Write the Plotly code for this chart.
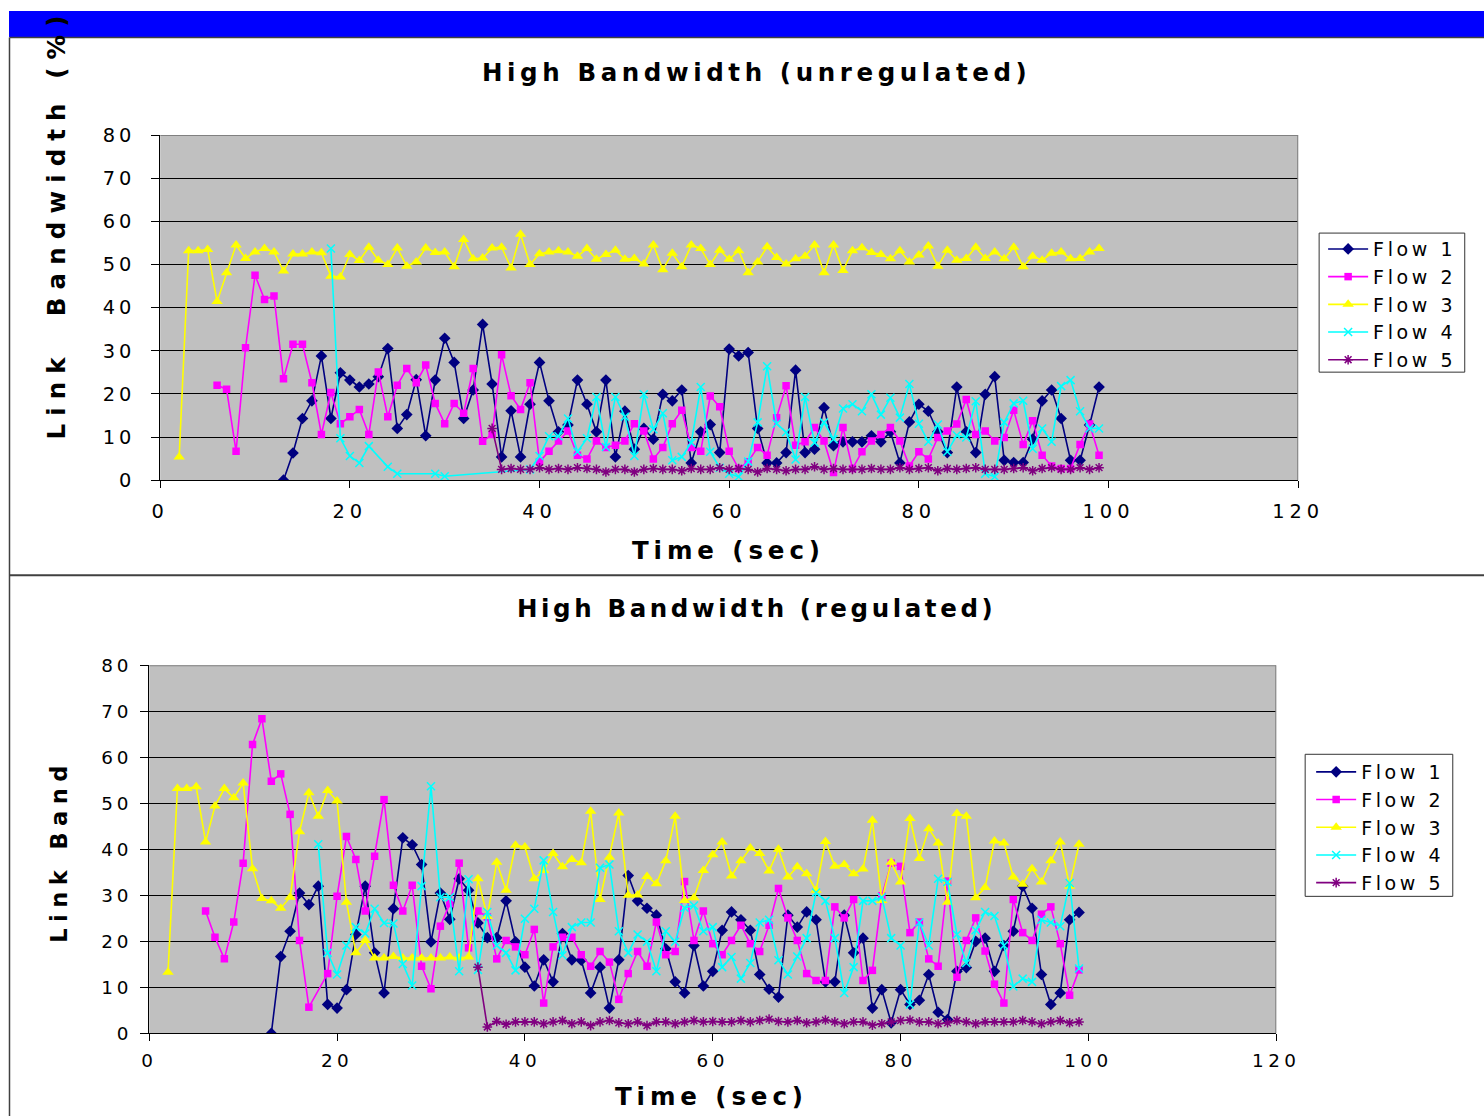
import plotly.graph_objects as go

# ---------------- data ----------------
flow_names = ["Flow 1", "Flow 2", "Flow 3", "Flow 4", "Flow 5"]
x_ticks = [0, 20, 40, 60, 80, 100, 120]
y_ticks = [0, 10, 20, 30, 40, 50, 60, 70, 80]

# --- High Bandwidth (unregulated) ---
top_f1_t = list(range(13, 100))
top_f1 = [0, 6.3, 14.3, 18.4, 28.8, 14.3, 24.9, 23.2, 21.6, 22.3,
          24.0, 30.5, 12.0, 15.2, 23.3, 10.3, 23.2, 32.9, 27.3, 14.3,
          20.9, 36.1, 22.3, 5.4, 16.1, 5.4, 17.6, 27.3, 18.4, 11.2,
          12.8, 23.2, 17.6, 11.2, 23.2, 5.4, 16.0, 7.2, 12.0, 9.5,
          19.9, 18.4, 20.9, 4.0, 11.2, 12.9, 6.4, 30.4, 28.8, 29.6,
          12.0, 4.0, 4.0, 6.4, 25.5, 6.4, 7.2, 16.8, 8.0, 8.9,
          8.9, 8.9, 10.3, 8.9, 11.2, 4.0, 13.5, 17.6, 16.0, 11.2,
          6.4, 21.6, 11.2, 6.4, 19.9, 24.0, 4.6, 4.1, 4.1, 9.5,
          18.4, 20.9, 14.3, 4.6, 4.6, 12.8, 21.6]

top_f2_t = list(range(6, 100))
top_f2 = [22.0, 21.1, 6.7, 30.7, 47.5, 41.9, 42.7, 23.5, 31.5, 31.5,
          22.6, 10.6, 20.3, 13.1, 14.7, 16.4, 10.6, 25.1, 14.7, 22.0,
          25.9, 22.6, 26.7, 17.8, 13.1, 17.8, 15.5, 25.9, 9.0, 10.6,
          29.1, 19.6, 16.4, 22.6, 4.3, 6.7, 9.1, 11.4, 5.8, 4.9,
          9.1, 7.6, 8.1, 9.1, 13.1, 11.4, 4.9, 7.6, 13.1, 16.2,
          7.6, 6.7, 19.5, 17.0, 6.7, 2.7, 4.3, 7.6, 5.8, 14.5,
          21.9, 8.1, 8.9, 12.2, 9.1, 1.8, 12.2, 2.7, 6.6, 9.1,
          10.6, 12.2, 9.1, 3.3, 6.6, 4.9, 9.9, 11.4, 13.0, 18.7,
          10.6, 11.4, 9.1, 9.9, 16.2, 8.3, 13.8, 5.8, 3.3, 2.7,
          2.7, 8.3, 13.0, 5.8]

top_f3_t = list(range(2, 100))
top_f3 = [5.4, 53.2, 53.2, 53.5, 41.4, 48.1, 54.5, 51.4, 52.9, 53.7,
          52.9, 48.5, 52.4, 52.4, 52.9, 52.7, 47.3, 47.1, 52.3, 50.9,
          54.0, 51.0, 50.0, 53.8, 49.6, 50.6, 53.8, 52.8, 52.9, 49.5,
          55.8, 51.3, 51.5, 53.8, 54.0, 49.2, 57.0, 50.0, 52.5, 52.9,
          53.2, 52.9, 51.9, 53.7, 51.2, 52.3, 53.3, 51.2, 51.4, 50.1,
          54.5, 48.8, 52.6, 49.5, 54.5, 53.7, 50.0, 53.3, 51.2, 53.2,
          48.1, 50.6, 54.1, 51.6, 50.1, 51.3, 51.9, 54.5, 48.1, 54.5,
          48.6, 53.2, 53.9, 52.8, 52.3, 51.3, 53.2, 50.6, 52.2, 54.3,
          49.6, 53.3, 51.0, 51.4, 54.0, 51.4, 52.9, 51.3, 54.0, 49.5,
          51.9, 51.0, 52.6, 52.9, 51.3, 51.4, 52.9, 53.7]

top_f4_t = list(range(18, 100))
top_f4 = [53.7, 9.7, 5.6, 4.0, 7.9, None, 3.1, 1.5, None, None,
          None, 1.5, 0.9, None, None, None, None, None, None, None,
          None, 2.5, 5.6, 10.2, 10.2, 14.3, 6.6, 9.7, 19.3, 7.7,
          19.3, 14.7, 5.6, 19.9, 11.8, 15.5, 4.6, 5.4, 8.7, 21.6,
          6.6, 2.9, 1.5, 0.8, 4.3, 13.4, 26.4, 13.1, 11.1, 4.8,
          19.3, 8.7, 13.4, 9.5, 16.6, 17.6, 16.0, 19.9, 15.2, 19.1,
          14.5, 22.3, 13.1, 8.9, 12.9, 6.6, 10.4, 9.9, 18.3, 1.5,
          0.8, 13.4, 17.8, 18.4, 7.3, 12.0, 8.9, 21.8, 23.2, 16.0,
          12.0, 12.0]

top_f5_t = list(range(35, 100))
top_f5 = [12.0, 2.5, 2.7, 2.5, 2.5, 2.9, 2.5, 2.7, 2.5, 2.9,
          2.7, 2.5, 1.9, 2.5, 2.5, 1.9, 2.5, 2.7, 2.5, 2.5,
          2.2, 2.7, 2.5, 2.5, 2.9, 2.5, 2.7, 2.5, 1.9, 2.7,
          2.5, 2.2, 2.5, 2.5, 3.1, 2.5, 2.7, 2.5, 2.5, 2.5,
          2.7, 2.5, 2.5, 2.9, 2.5, 2.7, 2.9, 2.2, 2.7, 2.5,
          2.7, 2.9, 2.5, 2.5, 2.5, 2.7, 2.9, 2.2, 2.7, 2.9,
          2.5, 2.5, 2.9, 2.5, 2.9]

# --- High Bandwidth (regulated) ---
bot_f1_t = list(range(13, 100))
bot_f1 = [0, 16.7, 22.2, 30.5, 28.0, 32.0, 6.3, 5.5, 9.5, 21.5,
          32.0, 17.5, 8.8, 27.1, 42.5, 41.0, 36.7, 19.9, 30.5, 24.8,
          33.6, 31.1, 24.0, 20.8, 20.8, 28.8, 19.9, 14.4, 10.3, 16.0,
          11.2, 21.7, 16.0, 15.9, 8.8, 14.4, 5.5, 16.0, 34.3, 28.8,
          27.2, 25.7, 18.4, 11.2, 8.8, 19.1, 10.3, 13.5, 22.4, 26.4,
          24.7, 22.4, 12.8, 9.6, 7.9, 25.7, 23.1, 26.4, 24.7, 11.2,
          11.2, 25.7, 17.5, 20.7, 5.5, 9.5, 2.3, 9.5, 6.3, 7.2,
          12.8, 4.6, 3.0, 13.5, 14.3, 20.0, 20.7, 13.5, 19.1, 22.2,
          32.0, 27.2, 12.8, 6.3, 8.8, 24.7, 26.3]

bot_f2_t = list(range(6, 100))
bot_f2 = [26.6, 20.9, 16.2, 24.2, 37.0, 62.8, 68.4, 54.8, 56.4, 47.6,
          20.2, 5.7, None, 13.0, 29.8, 42.8, 37.8, 26.6, 38.5, 50.8,
          32.2, 26.6, 32.2, 14.6, 9.7, 23.3, 28.2, 37.0, 18.6, 26.6,
          25.3, 16.2, 20.2, 18.8, 17.1, 22.6, 6.6, 18.8, 20.9, 20.9,
          17.1, 14.6, 17.8, 15.5, 7.4, 13.0, 17.8, 14.6, 24.2, 17.1,
          17.8, 33.0, 20.2, 26.6, 19.5, 17.1, 20.2, 23.5, 19.5, 17.8,
          23.5, 31.5, 25.1, 20.2, 13.0, 11.5, 11.5, 27.5, 25.1, 29.1,
          11.5, 13.7, 29.9, 37.0, 36.3, 21.9, 24.2, 16.2, 14.6, 33.1,
          12.2, 20.2, 25.1, 17.9, 10.7, 6.6, 29.1, 21.9, 20.2, 25.9,
          27.5, 19.5, 8.3, 13.8]

bot_f3_t = list(range(2, 100))
bot_f3 = [13.3, 53.2, 53.2, 53.6, 41.6, 49.4, 53.2, 51.2, 54.4, 35.8,
          29.3, 28.8, 27.2, 29.6, 43.8, 52.3, 47.2, 52.8, 50.5, 28.5,
          17.5, 20.2, 16.4, 16.4, 16.7, 16.4, 16.4, 16.4, 16.4, 16.4,
          16.6, 16.4, 16.6, 33.6, 25.4, 37.2, 31.1, 40.9, 40.5, 33.6,
          35.4, 39.1, 36.2, 37.8, 37.1, 48.3, 29.1, 38.3, 47.9, 30.0,
          30.1, 34.1, 32.5, 37.5, 47.2, 28.9, 29.5, 35.4, 38.8, 41.6,
          34.2, 37.5, 40.3, 39.1, 35.3, 40.0, 34.0, 36.2, 34.7, 31.1,
          41.7, 36.3, 36.7, 34.7, 35.7, 46.3, 28.9, 37.2, 32.9, 46.7,
          38.0, 44.5, 41.4, 28.5, 47.8, 47.2, 29.5, 31.7, 41.8, 41.4,
          34.0, 32.4, 35.8, 32.9, 37.5, 41.6, 32.0, 41.1]

bot_f4_t = list(range(18, 100))
bot_f4 = [41.1, 17.5, 12.8, 19.1, 23.1, 21.7, 27.1, 24.0, 23.9, 15.1,
          10.4, 32.0, 53.7, 29.6, 29.6, 13.5, 33.5, 13.8, 26.4, 19.1,
          17.5, 13.7, 24.9, 27.1, 37.6, 26.4, 17.0, 23.1, 24.1, 24.1,
          36.0, 36.7, 22.2, 17.5, 21.5, 19.9, 13.5, 22.2, 19.9, 27.3,
          27.8, 22.2, 23.1, 14.4, 16.6, 11.9, 15.3, 24.1, 24.7, 15.9,
          12.8, 16.7, 20.7, 30.6, 28.8, 20.7, 8.8, 14.4, 28.8, 28.8,
          29.6, 20.7, 19.1, 6.3, 24.1, 19.1, 33.6, 32.9, 21.5, 15.3,
          22.4, 26.4, 25.5, 19.1, 10.2, 11.9, 11.2, 24.7, 24.1, 23.3,
          32.7, 14.1]

bot_f5_t = list(range(35, 100))
bot_f5 = [14.4, 1.4, 2.6, 2.0, 2.5, 2.5, 2.5, 2.1, 2.5, 2.8,
          2.1, 2.5, 1.7, 2.5, 2.8, 2.3, 2.1, 2.5, 1.7, 2.5,
          2.5, 2.1, 2.5, 2.8, 2.5, 2.6, 2.5, 2.5, 2.8, 2.5,
          2.8, 3.1, 2.6, 2.5, 2.8, 2.3, 2.5, 2.9, 2.5, 2.1,
          2.5, 2.5, 1.8, 2.1, 2.5, 2.8, 2.9, 2.5, 2.5, 2.1,
          2.3, 2.8, 2.5, 2.1, 2.5, 2.5, 2.5, 2.5, 2.8, 2.5,
          2.1, 2.5, 2.8, 2.3, 2.5]

top_series = [(top_f1_t, top_f1), (top_f2_t, top_f2), (top_f3_t, top_f3),
              (top_f4_t, top_f4), (top_f5_t, top_f5)]
bot_series = [(bot_f1_t, bot_f1), (bot_f2_t, bot_f2), (bot_f3_t, bot_f3),
              (bot_f4_t, bot_f4), (bot_f5_t, bot_f5)]
for t, v in top_series + bot_series:
    assert len(t) == len(v), (len(t), len(v))

# ---------------- style ----------------
W, H = 1484, 1116
# observed placement of the page inside the photo (scale + offset)
S, OX, OY = 0.979, 7.4, 11.0
colors = ["#000080", "#FF00FF", "#FFFF00", "#00FFFF", "#800080"]
symbols = ["diamond", "square", "triangle-up", "x-thin-open", "asterisk-open"]
msizes = [9, 7.5, 10, 8, 8]
FONT = "DejaVu Sans"


def fs(size):
    return size / S


def spaced(text, px):
    return f'<span style="letter-spacing:{px}px">{text}</span>'


def fx(q):
    return (q - OX) / (S * W)


def fy(q):
    return 1 - (q - OY) / (S * H)


fig = go.Figure()


def add_series(series, xa, ya, leg):
    for i, (t, v) in enumerate(series):
        marker = dict(symbol=symbols[i], size=msizes[i], color=colors[i])
        if symbols[i].endswith("-open"):
            marker["line"] = dict(color=colors[i], width=1.5)
        fig.add_trace(go.Scatter(
            x=t, y=v, mode="lines+markers", name=spaced(flow_names[i], 3.6),
            line=dict(color=colors[i], width=1.6), marker=marker,
            connectgaps=True, xaxis=xa, yaxis=ya, legend=leg,
            hoverinfo="skip"))


add_series(top_series, "x", "y", "legend")
add_series(bot_series, "x2", "y2", "legend2")


def xaxis_cfg(domain, anchor, size, spacing, standoff):
    return dict(domain=domain, anchor=anchor, range=[0, 120],
                tickmode="array", tickvals=x_ticks,
                ticktext=[spaced(str(v), spacing) for v in x_ticks],
                ticks="outside", ticklen=7, tickcolor="black", tickwidth=1,
                showline=True, linecolor="black", linewidth=1,
                showgrid=False, zeroline=False, ticklabelstandoff=standoff,
                tickfont=dict(family=FONT, size=size, color="black"),
                fixedrange=True)


def yaxis_cfg(domain, anchor, size, spacing, standoff):
    return dict(domain=domain, anchor=anchor, range=[0, 80],
                tickmode="array", tickvals=y_ticks,
                ticktext=[spaced(str(v), spacing) for v in y_ticks],
                ticks="outside", ticklen=8, tickcolor="black", tickwidth=1,
                showline=True, linecolor="black", linewidth=1,
                showgrid=True, gridcolor="black", gridwidth=1,
                zeroline=False, ticklabelstandoff=standoff,
                tickfont=dict(family=FONT, size=size, color="black"),
                fixedrange=True)


def pline(x0, y0, x1, y1, color, width, layer="below"):
    return dict(type="line", xref="paper", yref="paper",
                x0=fx(x0), x1=fx(x1), y0=fy(y0), y1=fy(y1),
                line=dict(color=color, width=width), layer=layer)


def prect(x0, y0, x1, y1, fill, color, width, layer):
    return dict(type="rect", xref="paper", yref="paper",
                x0=fx(x0), x1=fx(x1), y0=fy(y1), y1=fy(y0),
                fillcolor=fill, line=dict(color=color, width=width), layer=layer)


shapes = [
    # blue frame
    dict(type="rect", xref="paper", yref="paper", x0=0, x1=fx(1490),
         y0=fy(37), y1=1, fillcolor="#0000FF", line=dict(width=0), layer="below"),
    pline(7.9, 37.5, 1490, 37.5, "#404040", 1.5),
    pline(7.9, 37.5, 7.9, 1120, "#404040", 1.5),
    pline(7.9, 575, 1490, 575, "#404040", 2),
    # legend boxes
    prect(1321, 233, 1467, 372, "white", "#333333", 1, "above"),
    prect(1307, 754, 1455, 896, "white", "#333333", 1, "above"),
    # plot-area borders (top/right, gray)
    dict(type="line", xref="x", yref="y", x0=0, x1=120, y0=80, y1=80,
         line=dict(color="#808080", width=2), layer="above"),
    dict(type="line", xref="x", yref="y", x0=120, x1=120, y0=0, y1=80,
         line=dict(color="#808080", width=2), layer="above"),
    dict(type="line", xref="x2", yref="y2", x0=0, x1=120, y0=80, y1=80,
         line=dict(color="#808080", width=2), layer="above"),
    dict(type="line", xref="x2", yref="y2", x0=120, x1=120, y0=0, y1=80,
         line=dict(color="#808080", width=2), layer="above"),
]


def ann(text, x, y, size, spacing, angle=0):
    return dict(text=spaced(text, spacing), xref="paper", yref="paper",
                x=fx(x), y=fy(y), xanchor="center", yanchor="middle",
                showarrow=False, textangle=angle,
                font=dict(family=FONT, size=fs(size), color="black", weight="bold"))


annotations = [
    ann("High Bandwidth (unregulated)", 757, 72, 24, 4.6),
    ann("Time (sec)", 729, 550, 24, 4.9),
    ann("Link  Bandwidth (%)", 55, 223, 24, 8.1, -90),
    ann("High Bandwidth (regulated)", 757, 608, 24, 3.6),
    ann("Time (sec)", 712, 1096, 24, 4.9),
    ann("Link Band", 58, 850, 22, 6.5, -90),
]

legend_common = dict(bgcolor="rgba(0,0,0,0)", borderwidth=0,
                     font=dict(family=FONT, size=19, color="black"),
                     itemwidth=40, xanchor="left", yanchor="top",
                     tracegroupgap=0)

fig.update_layout(
    width=W, height=H, autosize=False,
    margin=dict(l=0, r=0, t=0, b=0, pad=0),
    paper_bgcolor="white", plot_bgcolor="#C0C0C0",
    xaxis=xaxis_cfg([fx(159), fx(1300)], "y", fs(19), 5, 7),
    yaxis=yaxis_cfg([fy(480), fy(135)], "x", fs(19), 4, 12),
    xaxis2=xaxis_cfg([fx(148), fx(1278)], "y2", fs(18), 4.5, 4),
    yaxis2=yaxis_cfg([fy(1033), fy(665)], "x2", fs(18), 4, 4),
    legend=dict(x=fx(1325), y=fy(230), **legend_common),
    legend2=dict(x=fx(1313), y=fy(752.7), **legend_common),
    shapes=shapes, annotations=annotations, showlegend=True,
)

fig.write_html(
    "out.html",
    config={"displayModeBar": False},
    post_script="document.body.style.margin='0';document.body.style.overflow='hidden';",
)
